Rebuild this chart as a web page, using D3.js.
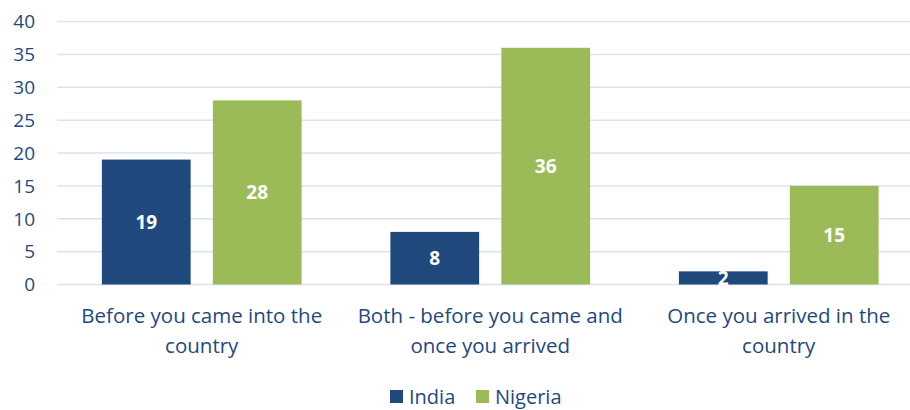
<!DOCTYPE html>
<html>
<head>
<meta charset="utf-8">
<script src="https://cdn.jsdelivr.net/npm/d3@7"></script>
<style>
  body { margin: 0; background: #fff; }
  text { font-family: "Open Sans", sans-serif; }
</style>
</head>
<body>
<script>
const categories = [
    ["Before you came into the", "country"],
    ["Both - before you came and", "once you arrived"],
    ["Once you arrived in the", "country"]
];
const seriesNames = ["India", "Nigeria"];
const india = [19, 8, 2];
const nigeria = [28, 36, 15];
const yTicks = [0, 5, 10, 15, 20, 25, 30, 35, 40];
const colors = ["#1f497d", "#9bbb59"];

const W = 910, H = 410;
const textColor = "#1f497d";

const svg = d3.select("body").append("svg")
    .attr("width", W)
    .attr("height", H);

const x0 = d3.scaleBand()
    .domain(d3.range(categories.length))
    .range([57.5, 923])
    .paddingInner(0)
    .paddingOuter(0);

const x1 = d3.scaleBand()
    .domain(seriesNames)
    .range([0, x0.bandwidth()])
    .paddingInner(0.2)
    .paddingOuter(0.4);

const y = d3.scaleLinear()
    .domain([0, 40])
    .range([284.5, 21.5]);

// gridlines
svg.append("g")
    .selectAll("line")
    .data(yTicks)
    .join("line")
    .attr("x1", 57)
    .attr("x2", W)
    .attr("y1", d => y(d))
    .attr("y2", d => y(d))
    .attr("stroke", "#d9e4f2")
    .attr("stroke-width", 1.5);

// y axis labels
svg.append("g")
    .selectAll("text")
    .data(yTicks)
    .join("text")
    .attr("x", 35)
    .attr("y", d => y(d))
    .attr("dy", "0.36em")
    .attr("text-anchor", "end")
    .attr("font-size", 19)
    .attr("fill", textColor)
    .text(d => d);

const rows = categories.map((c, i) => ({ i, values: [india[i], nigeria[i]] }));

const groups = svg.append("g")
    .selectAll("g")
    .data(rows)
    .join("g")
    .attr("transform", d => `translate(${x0(d.i)},0)`);

groups.selectAll("rect")
    .data(d => d.values.map((v, k) => ({ k, v })))
    .join("rect")
    .attr("x", d => x1(seriesNames[d.k]))
    .attr("width", x1.bandwidth())
    .attr("y", d => y(d.v))
    .attr("height", d => y(0) - y(d.v))
    .attr("fill", d => colors[d.k]);

groups.selectAll("text.val")
    .data(d => d.values.map((v, k) => ({ k, v })))
    .join("text")
    .attr("class", "val")
    .attr("x", d => x1(seriesNames[d.k]) + x1.bandwidth() / 2)
    .attr("y", d => (y(d.v) + y(0)) / 2)
    .attr("dy", "0.36em")
    .attr("text-anchor", "middle")
    .attr("font-size", 19)
    .attr("font-weight", "bold")
    .attr("fill", "#fff")
    .text(d => d.v);

// category labels
svg.append("g")
    .selectAll("text")
    .data(categories)
    .join("text")
    .attr("x", (d, i) => x0(i) + x0.bandwidth() / 2)
    .attr("y", 316)
    .attr("text-anchor", "middle")
    .attr("font-size", 20.5)
    .attr("fill", textColor)
    .selectAll("tspan")
    .data(d => d)
    .join("tspan")
    .attr("x", function () { return this.parentNode.getAttribute("x"); })
    .attr("dy", (d, j) => j === 0 ? "0.36em" : 30)
    .text(d => d);

// legend
const legend = svg.append("g");
const legendItems = [
    { name: "India", x: 390 },
    { name: "Nigeria", x: 476 }
];
legendItems.forEach((l, k) => {
    legend.append("rect")
        .attr("x", l.x)
        .attr("y", 390)
        .attr("width", 13)
        .attr("height", 13)
        .attr("fill", colors[k]);
    legend.append("text")
        .attr("x", l.x + 19)
        .attr("y", 397)
        .attr("dy", "0.36em")
        .attr("font-size", 20)
        .attr("fill", textColor)
        .text(l.name);
});
</script>
</body>
</html>
